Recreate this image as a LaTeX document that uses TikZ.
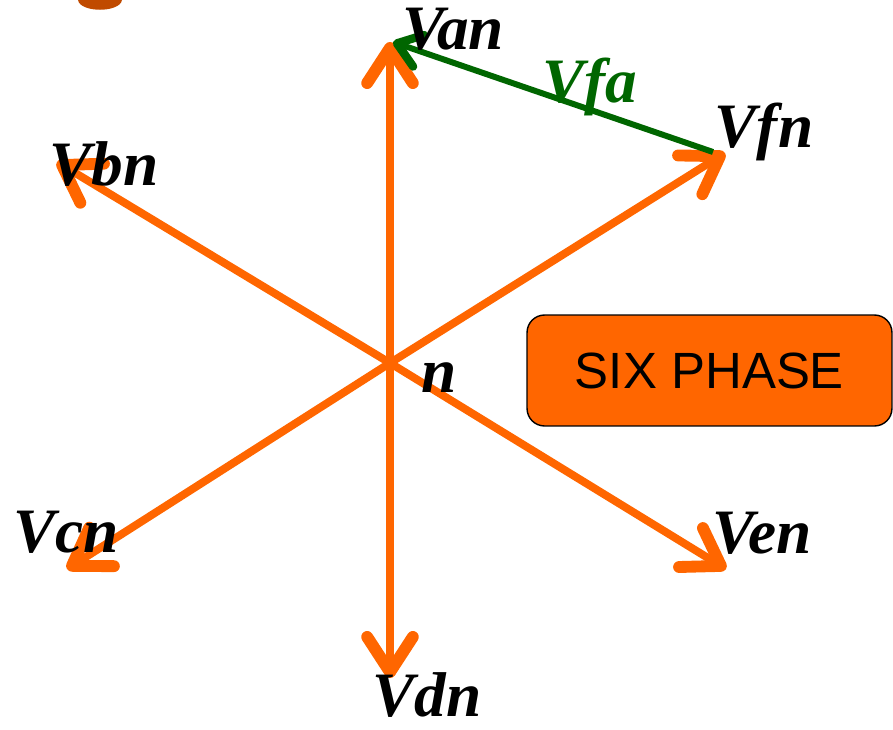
\documentclass[tikz,border=0pt]{standalone}
\usepackage{fontspec}
\setmainfont{Liberation Serif}
\setsansfont{Liberation Sans}
\usepackage{tikz}
\usetikzlibrary{positioning,arrows.meta}
\definecolor{phorange}{HTML}{FF6600}
\definecolor{phgreen}{HTML}{006600}
\definecolor{blob}{HTML}{C04A00}

\begin{document}
\begin{tikzpicture}[x=0.02cm, y=-0.02cm,
  ph/.style={draw=phorange, line width=4.5pt, line cap=round,
    -{Straight Barb[length=20pt, width=26pt, line width=0pt 1.5, round]}},
  diff/.style={draw=phgreen, line width=3.4pt,
    -{Straight Barb[length=13pt, width=19pt, line width=0pt 1.4, round]}},
  lbl/.style={font=\fontsize{36}{40}\selectfont\bfseries\itshape, anchor=base, inner sep=0pt},
  tag/.style={draw, line width=0.8pt, fill=phorange, rounded corners=10pt,
    minimum width=7.3cm, minimum height=2.22cm, font=\sffamily\fontsize{29}{32}\selectfont}]
\useasboundingbox (0,0) rectangle (893,730);
\fill[blob] (78,0) .. controls (80,13) and (120,13) .. (122,0) -- cycle;
\coordinate (n) at (390,363);
\coordinate (an) at (390,42);
\coordinate (bn) at (57,162);
\coordinate (cn) at (67,569);
\coordinate (dn) at (390,678);
\coordinate (en) at (726,569);
\coordinate (fn) at (725,153);
\draw[ph] (n) -- (an);
\draw[ph] (n) -- (bn);
\draw[ph] (n) -- (cn);
\draw[ph] (n) -- (dn);
\draw[ph] (n) -- (en);
\draw[ph] (n) -- (fn);
\coordinate (fa0) at (713,152);
\coordinate (fa1) at (393,42);
\draw[diff] (fa0) -- (fa1);
\node[lbl] (lan) at (453,50) {Van};
\node[lbl] (lbn) at (104,185) {Vbn};
\node[lbl] (lcn) at (66,552) {Vcn};
\node[lbl] (ldn) at (427,716) {Vdn};
\node[lbl] (len) at (762,553) {Ven};
\node[lbl] (lfn) at (764,147) {Vfn};
\node[lbl] (ln) at (439,392) {n};
\node[lbl, text=phgreen] (lfa) at (590,102) {Vfa};
\node[tag] (six) at (709.5,370.5) {SIX PHASE};
\end{tikzpicture}
\end{document}
